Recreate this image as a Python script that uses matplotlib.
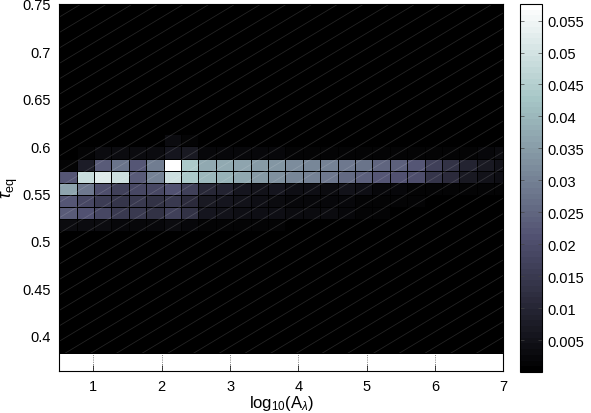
import numpy as np
import matplotlib
matplotlib.use("Agg")
import matplotlib.pyplot as plt
from matplotlib.collections import LineCollection
from matplotlib.patches import Rectangle

plt.rcParams['font.family'] = ['Liberation Sans', 'DejaVu Sans']
plt.rcParams['mathtext.fontset'] = 'custom'
plt.rcParams['mathtext.rm'] = 'Liberation Sans'
plt.rcParams['mathtext.it'] = 'Liberation Sans:italic'

# ---- data: 2D histogram of log10(A_lambda) vs tau_eq ----
x_start, x_step, n_cols = 0.5, 0.2547, 26
y_start, y_step, n_rows = 0.382, 0.0128, 30
x_edges = x_start + x_step * np.arange(n_cols + 1)
y_edges = y_start + y_step * np.arange(n_rows + 1)

row10 = [0.003, 0.003, 0.003, 0.002, 0.002, 0.002, 0.003, 0.002, 0.001, 0.001, 0.001, 0.001, 0.001,
         0.0005, 0.0005, 0.0005, 0.0005, 0, 0, 0, 0, 0, 0, 0, 0, 0]
row11 = [0.023, 0.021, 0.018, 0.015, 0.015, 0.013, 0.017, 0.013, 0.006, 0.005, 0.004, 0.004, 0.004,
         0.003, 0.003, 0.003, 0.002, 0.001, 0.001, 0, 0, 0, 0, 0, 0, 0]
row12 = [0.022, 0.018, 0.016, 0.014, 0.015, 0.013, 0.015, 0.011, 0.007, 0.006, 0.005, 0.004, 0.003,
         0.002, 0.002, 0.002, 0.002, 0.001, 0.001, 0.001, 0.001, 0.0005, 0.0005, 0.0005, 0.0005, 0.0005]
row13 = [0.036, 0.028, 0.020, 0.017, 0.018, 0.018, 0.021, 0.017, 0.010, 0.009, 0.006, 0.005, 0.006,
         0.004, 0.004, 0.003, 0.005, 0.004, 0.002, 0.002, 0.001, 0.001, 0.001, 0.001, 0.001, 0.001]
row14 = [0.022, 0.048, 0.052, 0.049, 0.023, 0.030, 0.049, 0.044, 0.040, 0.039, 0.037, 0.035, 0.033,
         0.031, 0.030, 0.028, 0.026, 0.024, 0.022, 0.021, 0.020, 0.014, 0.011, 0.007, 0.005, 0.004]
row15 = [0.001, 0.008, 0.023, 0.027, 0.022, 0.029, 0.0576, 0.044, 0.037, 0.037, 0.036, 0.035, 0.034,
         0.032, 0.031, 0.030, 0.028, 0.027, 0.025, 0.024, 0.022, 0.017, 0.013, 0.009, 0.007, 0.005]
row16 = [0, 0.001, 0.003, 0.003, 0.003, 0.003, 0.006, 0.007, 0.002, 0.002, 0.002, 0.002, 0.002,
         0.001, 0.001, 0.001, 0.001, 0.001, 0.001, 0.001, 0.001, 0.001, 0.001, 0.001, 0.002, 0.003]
row17 = [0, 0, 0, 0, 0, 0, 0.003, 0.001, 0, 0, 0, 0, 0, 0, 0, 0, 0, 0, 0, 0, 0, 0, 0, 0, 0, 0]

counts = np.zeros((n_rows, n_cols))
for idx, row in zip(range(10, 18), [row10, row11, row12, row13, row14, row15, row16, row17]):
    counts[idx] = row

x_ticks = [1, 2, 3, 4, 5, 6, 7]
y_ticks = [0.4, 0.45, 0.5, 0.55, 0.6, 0.65, 0.7, 0.75]
y_tick_labels = ['0.4', '0.45', '0.5', '0.55', '0.6', '0.65', '0.7', '0.75']
cb_ticks = [0.005, 0.01, 0.015, 0.02, 0.025, 0.03, 0.035, 0.04, 0.045, 0.05, 0.055]
cb_labels = ['0.005', '0.01', '0.015', '0.02', '0.025', '0.03', '0.035', '0.04', '0.045', '0.05', '0.055']
vmin, vmax = 0.0, 0.0576

# ---- figure ----
fig = plt.figure(figsize=(5.91, 4.14), dpi=100)
ax = fig.add_axes([0.1003, 0.1022, 0.7513, 0.8858])
cax = fig.add_axes([0.880, 0.099, 0.0372, 0.889])

cmap = plt.get_cmap('bone', 64)
ax.set_axisbelow(True)
ax.grid(True, axis='x', linestyle=':', color='#555555', linewidth=0.6)
mesh = ax.pcolormesh(x_edges, y_edges, counts, cmap=cmap, vmin=vmin, vmax=vmax,
                     edgecolors='k', linewidth=0.5, zorder=2)

ax.set_xlim(0.5, 7)
ax.set_ylim(0.363, 0.75)

# faint diagonal rendering lines over the mesh
clip_rect = Rectangle((x_edges[0], y_edges[0]), x_edges[-1] - x_edges[0], y_edges[-1] - y_edges[0],
                      transform=ax.transData, facecolor='none', edgecolor='none')
ax.add_patch(clip_rect)
slope = 0.727
spacing = 0.0579
segs = []
for x0 in np.arange(-1.5, 1.0 + spacing, spacing):
    segs.append([(x0, 0.0), (x0 + 1.0 / slope, 1.0)])
lc = LineCollection(segs, colors=[(1, 1, 1, 0.14)], linewidths=0.6, transform=ax.transAxes, zorder=3)
ax.add_collection(lc)
lc.set_clip_path(clip_rect)

ax.set_xticks(x_ticks)
ax.set_xticklabels([str(t) for t in x_ticks])
ax.set_yticks(y_ticks)
ax.set_yticklabels(y_tick_labels)
ax.tick_params(direction='in', length=4, width=0.5, top=True, right=True, labelsize=10.5, pad=6)
for sp in ax.spines.values():
    sp.set_linewidth(0.8)
    sp.set_zorder(5)

ax.set_xlabel(r'log$_{10}$(A$_\lambda$)', fontsize=12, labelpad=0)
ax.set_ylabel(r'$\tau_{\mathrm{eq}}$', fontsize=13, labelpad=2)

cb = fig.colorbar(mesh, cax=cax, ticks=cb_ticks)
cb.ax.set_yticklabels(cb_labels)
cb.ax.tick_params(direction='in', length=3, width=0.5, left=True, right=True, labelsize=10.5,
                  color='#444444')
cb.outline.set_linewidth(0.8)

fig.savefig('out.png', dpi=100)
